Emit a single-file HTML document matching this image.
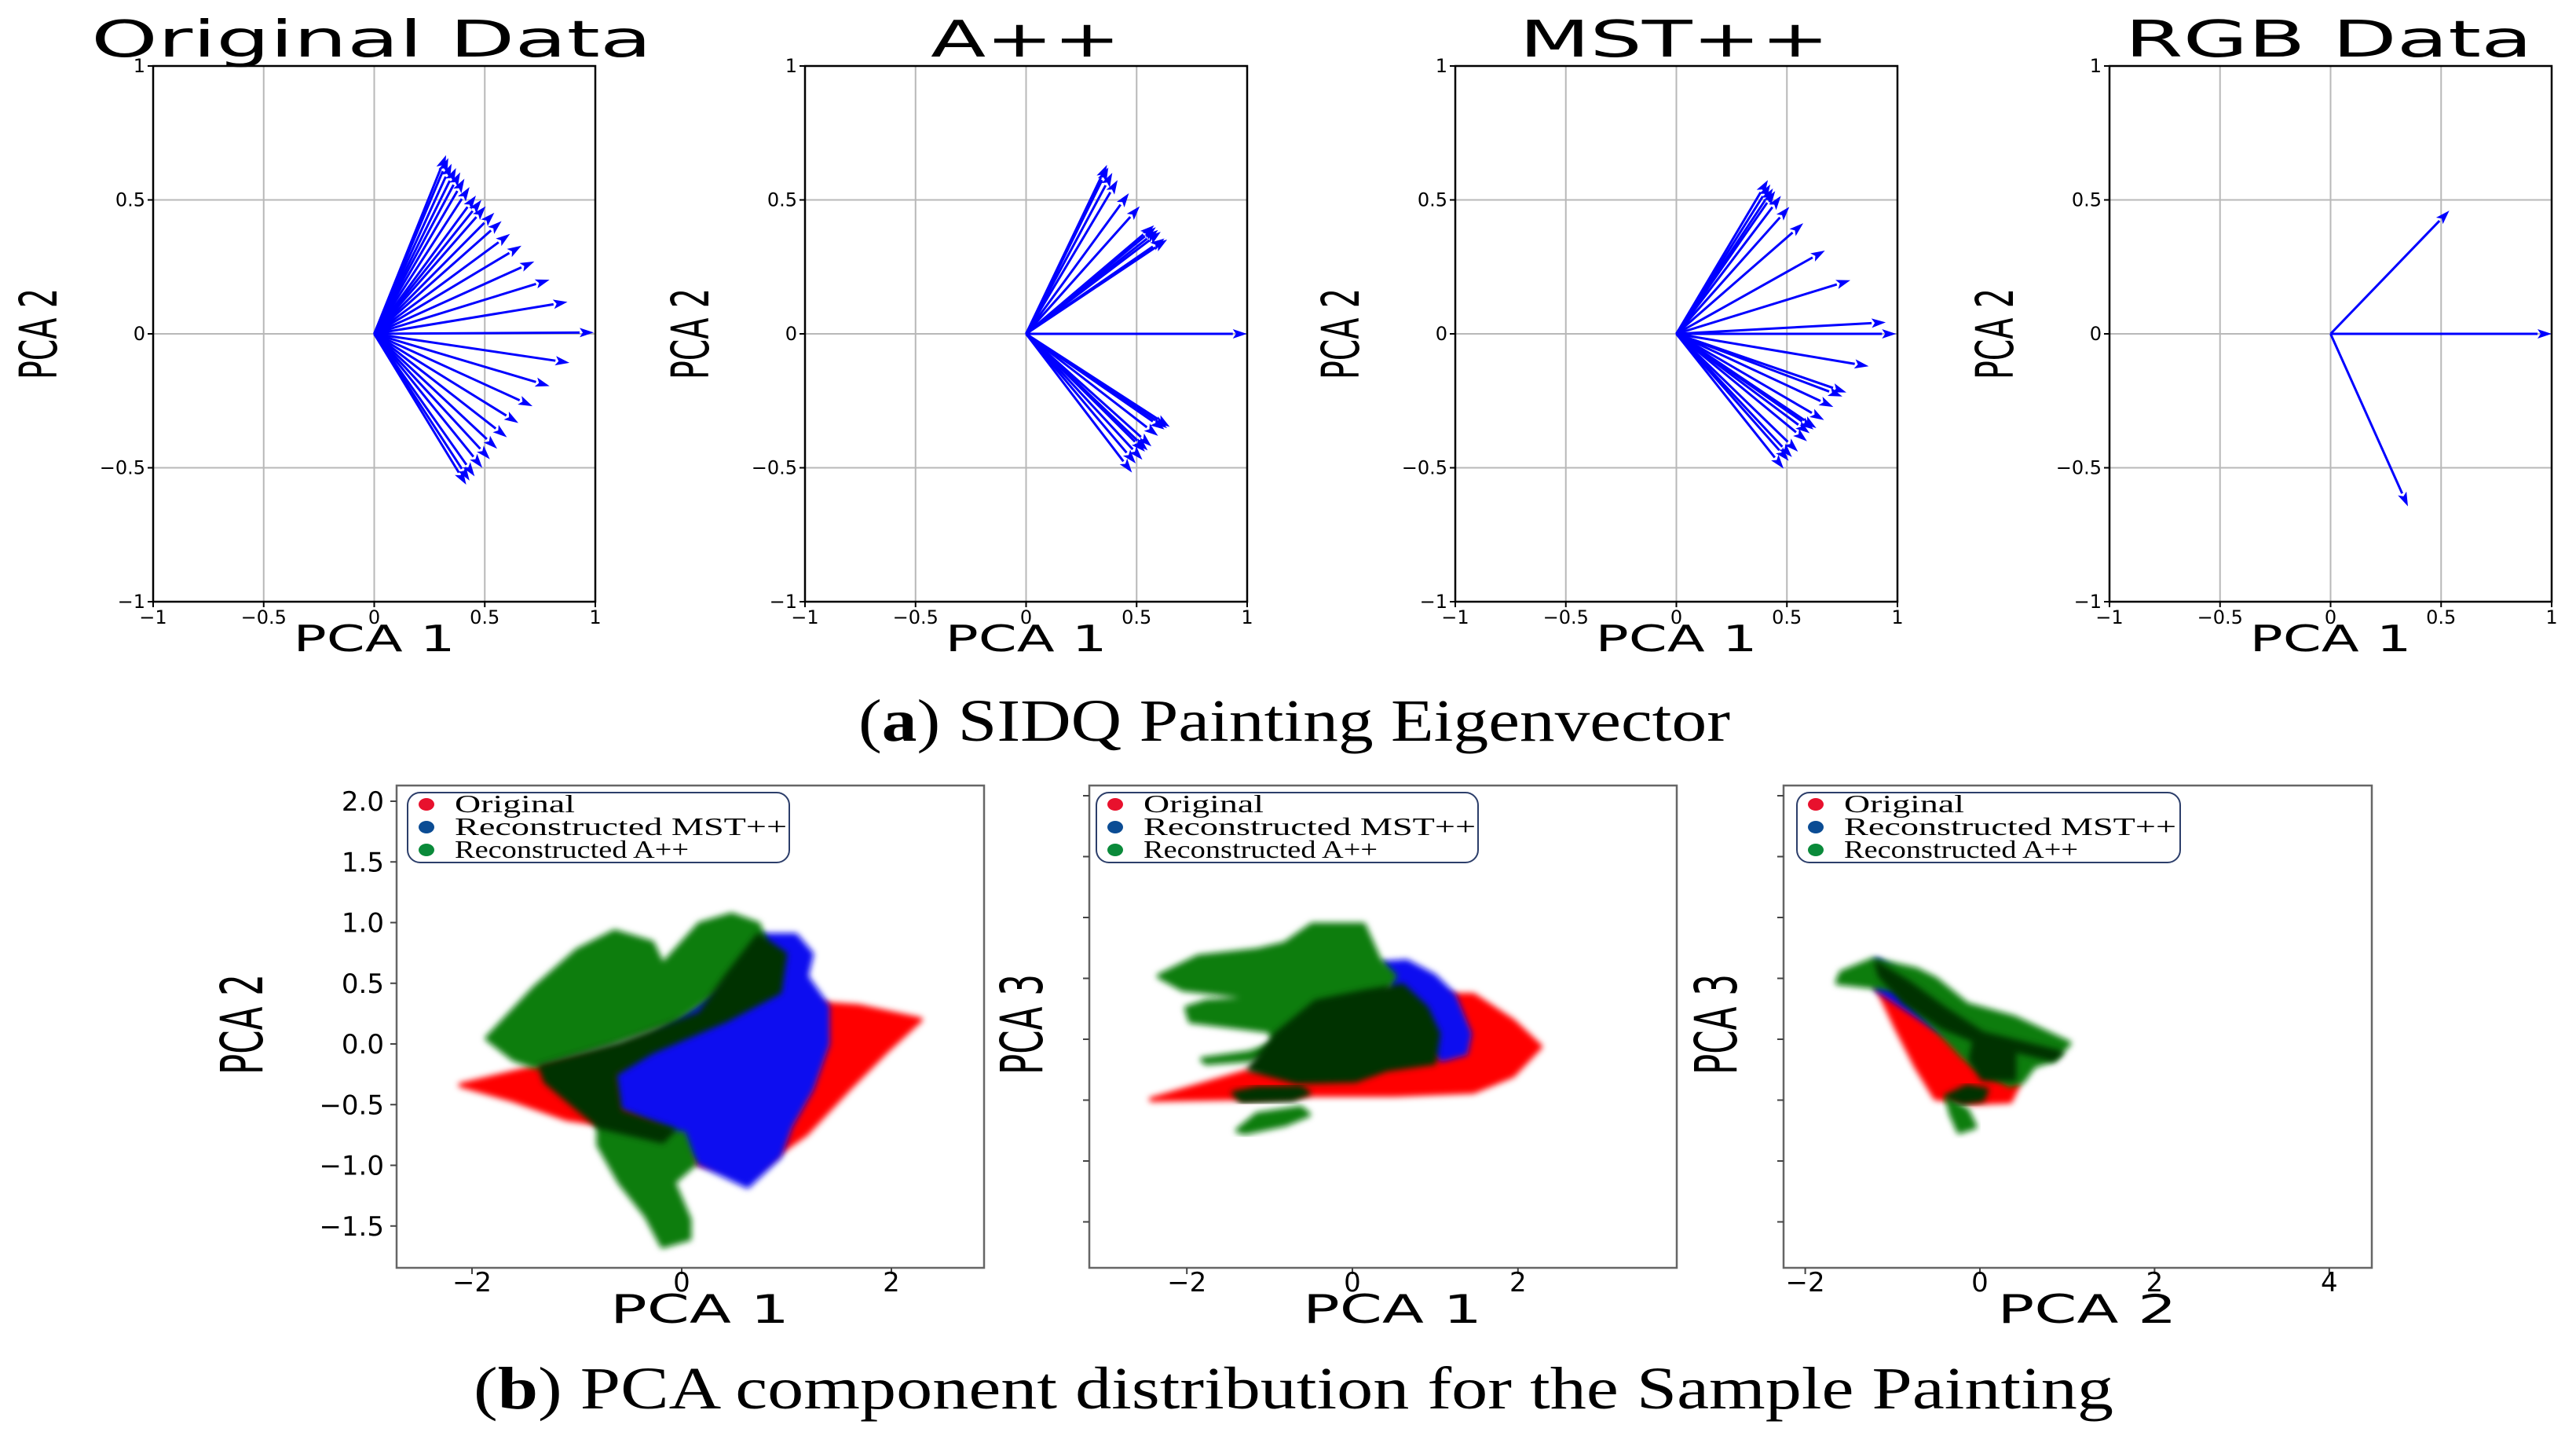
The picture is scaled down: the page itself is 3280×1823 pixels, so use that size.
<!DOCTYPE html>
<html><head><meta charset="utf-8"><style>
html,body{margin:0;padding:0;background:#fff;}
svg{display:block;}
</style></head><body>
<svg id="fig" xmlns="http://www.w3.org/2000/svg" width="3280" height="1823" viewBox="0 0 3280 1823">
<defs><filter id="blur" x="-20%" y="-20%" width="140%" height="140%"><feGaussianBlur stdDeviation="4"/></filter></defs>
<g id="top"></g>
<g id="bottom"></g>
<text x="1648" y="943" font-family="Liberation Serif, serif" font-size="76" text-anchor="middle" textLength="1110" lengthAdjust="spacingAndGlyphs">(<tspan font-weight="bold">a</tspan>) SIDQ Painting Eigenvector</text>
<text x="1647" y="1793" font-family="Liberation Serif, serif" font-size="76" text-anchor="middle" textLength="2088" lengthAdjust="spacingAndGlyphs">(<tspan font-weight="bold">b</tspan>) PCA component distribution for the Sample Painting</text>
</svg>
<script>
// ---------- Eigenvector data (PCA1, PCA2 components) ----------
const titles = ["Original Data", "A++", "MST++", "RGB Data"];
const origX = [0.325,0.335,0.350,0.370,0.389,0.408,0.431,0.460,0.485,0.504,0.543,0.576,0.614,0.666,0.724,0.793,0.874,0.993,0.883,0.793,0.716,0.652,0.600,0.556,0.523,0.489,0.454,0.431,0.416];
const origY = [0.667,0.656,0.635,0.619,0.603,0.579,0.548,0.516,0.500,0.476,0.452,0.421,0.373,0.329,0.270,0.202,0.119,0.005,-0.108,-0.195,-0.270,-0.333,-0.386,-0.429,-0.468,-0.500,-0.532,-0.548,-0.563];
const aX = [0.366,0.372,0.390,0.414,0.465,0.514,0.579,0.587,0.597,0.609,0.626,0.638,0.999,0.650,0.638,0.626,0.597,0.567,0.550,0.538,0.526,0.496,0.479];
const aY = [0.631,0.621,0.601,0.574,0.525,0.476,0.405,0.398,0.388,0.381,0.356,0.352,0,-0.347,-0.352,-0.357,-0.381,-0.420,-0.435,-0.440,-0.470,-0.484,-0.518];
const mX = [0.414,0.425,0.437,0.447,0.473,0.511,0.574,0.672,0.787,0.947,0.994,0.870,0.769,0.751,0.710,0.668,0.633,0.621,0.603,0.591,0.550,0.523,0.508,0.485];
const mY = [0.574,0.558,0.543,0.533,0.515,0.474,0.413,0.311,0.200,0.043,0,-0.121,-0.219,-0.234,-0.273,-0.322,-0.352,-0.357,-0.371,-0.401,-0.440,-0.460,-0.474,-0.503];
const rgbX = [0.537,1.0,0.35];
const rgbY = [0.460,0,-0.644];
const topTicks = [-1,-0.5,0,0.5,1];
const topTickLabels = ["\u22121","\u22120.5","0","0.5","1"];

// ---------- Scatter density regions (data units) ----------
const b1Red = [[-2.108,-0.339],[-1.348,-0.185],[-0.588,-0.062],[0.426,0.247],[1.186,0.339],[1.693,0.308],[2.276,0.200],[1.946,-0.062],[1.591,-0.370],[1.186,-0.740],[0.679,-1.048],[0.172,-0.986],[-0.588,-0.678],[-1.095,-0.616],[-1.602,-0.462]];
const b1Blue = [[-0.639,-0.247],[-0.081,0.185],[0.426,0.493],[0.730,0.894],[1.085,0.894],[1.237,0.740],[1.186,0.555],[1.389,0.308],[1.389,0],[1.237,-0.370],[1.034,-0.678],[0.932,-0.925],[0.628,-1.171],[0.172,-0.986],[-0.183,-0.678],[-0.588,-0.524]];
const b1Green = [[-1.855,0.046],[-1.399,0.462],[-0.993,0.770],[-0.639,0.924],[-0.284,0.832],[-0.183,0.647],[0.172,0.986],[0.476,1.063],[0.730,0.986],[0.781,0.863],[0.628,0.678],[0.324,0.431],[-0.081,0.185],[-0.689,0],[-1.399,-0.185],[-1.602,-0.123]];
const b1Green2 = [[-0.791,-0.616],[-0.436,-0.678],[0.020,-0.740],[0.122,-0.986],[-0.081,-1.140],[0.071,-1.448],[0.071,-1.602],[-0.183,-1.664],[-0.335,-1.418],[-0.588,-1.140],[-0.791,-0.832]];
const b1Dark = [[-1.348,-0.185],[-0.588,0],[0.172,0.247],[0.426,0.555],[0.730,0.894],[0.983,0.740],[0.932,0.431],[0.426,0.200],[-0.284,-0.062],[-0.639,-0.247],[-0.588,-0.555],[-0.081,-0.709],[-0.183,-0.801],[-0.791,-0.678],[-1.297,-0.308]];

const b2Red = [[-2.429,-0.495],[-1.291,-0.271],[-0.437,-0.218],[0.892,0.361],[1.461,0.361],[1.936,0.150],[2.268,-0.061],[1.936,-0.297],[1.461,-0.429],[0.512,-0.455],[-0.531,-0.455],[-1.385,-0.482]];
const b2Blue = [[0.370,0.624],[0.655,0.637],[0.987,0.518],[1.224,0.361],[1.414,0.045],[1.367,-0.113],[1.082,-0.166],[0.750,0.045],[0.512,0.361]];
const b2Green = [[-2.335,0.518],[-1.860,0.676],[-1.148,0.729],[-0.816,0.782],[-0.484,0.939],[0.133,0.939],[0.323,0.650],[0.512,0.518],[0.323,0.308],[-0.436,-0.008],[-1.243,-0.166],[-1.765,-0.192],[-1.812,-0.166],[-1.243,-0.113],[-0.911,-0.034],[-1.006,0.071],[-1.955,0.150],[-2.002,0.255],[-1.765,0.308],[-1.006,0.334],[-2.050,0.413]];
const b2Green2 = [[-1.385,-0.750],[-1.148,-0.618],[-0.626,-0.566],[-0.531,-0.618],[-0.816,-0.697],[-1.290,-0.763]];
const b2Dark = [[-1.243,-0.245],[-0.911,0.045],[-0.437,0.308],[0.133,0.387],[0.607,0.439],[0.892,0.255],[1.034,0.045],[0.987,-0.192],[0.418,-0.245],[0.038,-0.337],[-0.674,-0.350]];
const b2Dark2 = [[-1.433,-0.442],[-1.148,-0.403],[-0.626,-0.397],[-0.531,-0.442],[-0.721,-0.495],[-1.338,-0.508]];

const b3Red = [[-1.182,0.439],[-0.733,0.308],[-0.146,0.045],[0.211,-0.166],[0.436,-0.376],[0.346,-0.508],[-0.058,-0.522],[-0.508,-0.482],[-0.733,-0.218],[-0.957,0.097]];
const b3Blue = [[-1.182,0.650],[-1.002,0.571],[-0.733,0.361],[-0.058,0.018],[-0.148,-0.034],[-0.508,0.097],[-1.182,0.413]];
const b3Green = [[-1.227,0.650],[-0.733,0.571],[-0.508,0.492],[-0.148,0.282],[0.391,0.176],[1.020,-0.034],[0.840,-0.166],[0.616,-0.218],[0.481,-0.350],[0.346,-0.376],[-0.058,-0.218],[-0.193,-0.140],[-0.508,0.097],[-0.957,0.413],[-1.631,0.466],[-1.586,0.545]];
const b3Green2 = [[-0.373,-0.482],[-0.148,-0.587],[-0.058,-0.718],[-0.238,-0.758],[-0.328,-0.613]];
const b3Dark = [[-1.182,0.624],[-0.822,0.466],[-0.418,0.255],[0.031,0.045],[0.930,-0.113],[0.840,-0.166],[0.391,-0.087],[0.391,-0.324],[0.031,-0.324],[-0.103,-0.166],[-0.058,-0.008],[-0.418,0.097],[-0.867,0.308],[-1.137,0.518]];
const b3Dark2 = [[-0.373,-0.468],[-0.148,-0.389],[0.076,-0.416],[0.031,-0.495],[-0.193,-0.522]];

const b1YTicks = [2.0,1.5,1.0,0.5,0.0,-0.5,-1.0,-1.5];
const b1YLabels = ["2.0","1.5","1.0","0.5","0.0","\u22120.5","\u22121.0","\u22121.5"];
const b12XTicks = [-2,0,2];
const b12XLabels = ["\u22122","0","2"];
const b3XTicks = [-2,0,2,4];
const b3XLabels = ["\u22122","0","2","4"];
const legendLabels = ["Original","Reconstructed MST++","Reconstructed A++"];
const legendColors = ["#e8112d","#0b4c94","#0a8a3a"];
const legendLens = [153,423,298];

const NS = "http://www.w3.org/2000/svg";
function mk(tag, attrs, parent){const e=document.createElementNS(NS,tag);for(const k in attrs)e.setAttribute(k,attrs[k]);parent.appendChild(e);return e;}

// ---------- Top eigenvector panels ----------
const topG = document.getElementById("top");
const panelLeft = [195, 1025, 1853, 2686];
const pW = 563, pTop = 84, pBot = 766;
const titleLen = [714, 242, 395, 519];
const titleOff = [278, 281, 279, 279];
const vecX = [origX, aX, mX, rgbX];
const vecY = [origY, aY, mY, rgbY];
const names = ["original","a-plus-plus","mst-plus-plus","rgb"];
for (let p=0;p<4;p++){
  const L = panelLeft[p];
  const sx = v => L + (v+1)/2*pW;
  const sy = v => pTop + (1-v)/2*(pBot-pTop);
  const g = mk("g",{},topG);
  
  
  topTicks.forEach((t,i)=>{
    if (t>-1 && t<1){
      const gl = mk("line",{x1:sx(t),x2:sx(t),y1:pTop,y2:pBot,stroke:"#b8b8b8","stroke-width":2},g);
      
      
      const gh = mk("line",{x1:L,x2:L+pW,y1:sy(t),y2:sy(t),stroke:"#b8b8b8","stroke-width":2},g);
      
      
    }
    mk("line",{x1:sx(t),x2:sx(t),y1:pBot,y2:pBot+7,stroke:"#000","stroke-width":2},g);
    mk("line",{x1:L-7,x2:L,y1:sy(t),y2:sy(t),stroke:"#000","stroke-width":2},g);
    const xl = mk("text",{x:sx(t),y:pBot+28,"font-family":"DejaVu Sans, sans-serif","font-size":24,"text-anchor":"middle"},g);
    xl.textContent = topTickLabels[i];
    
    
    const yl = mk("text",{x:L-10,y:sy(t)+8,"font-family":"DejaVu Sans, sans-serif","font-size":24,"text-anchor":"end"},g);
    yl.textContent = topTickLabels[i];
    
    
  });
  const ox = sx(0), oy = sy(0);
  for (let i=0;i<vecX[p].length;i++){
    const ex = sx(vecX[p][i]), ey = sy(vecY[p][i]);
    const dx=ex-ox, dy=ey-oy, len=Math.hypot(dx,dy), ux=dx/len, uy=dy/len;
    const hl=18, hw=6;
    const bx=ex-ux*hl, by=ey-uy*hl;
    const ln = mk("line",{x1:ox,y1:oy,x2:bx,y2:by,stroke:"#0000ff","stroke-width":3},g);
    
    
    const hd = mk("polygon",{points:`${ex},${ey} ${bx-uy*hw},${by+ux*hw} ${bx+ux*4},${by+uy*4} ${bx+uy*hw},${by-ux*hw}`,fill:"#0000ff"},g);
    
    
  }
  const fr = mk("rect",{x:L,y:pTop,width:pW,height:pBot-pTop,fill:"none",stroke:"#000","stroke-width":2.5},g);
  
  
  const tt = mk("text",{x:L+titleOff[p],y:72,"font-family":"DejaVu Sans, sans-serif","font-size":64,"text-anchor":"middle",textLength:titleLen[p],lengthAdjust:"spacingAndGlyphs"},g);
  tt.textContent = titles[p];
  
  
  const xt = mk("text",{x:L+pW/2,y:829,"font-family":"DejaVu Sans, sans-serif","font-size":46,"text-anchor":"middle",textLength:206,lengthAdjust:"spacingAndGlyphs"},g);
  xt.textContent = "PCA 1";
  
  
  const yt = mk("text",{x:0,y:0,"font-family":"DejaVu Sans, sans-serif","font-size":66,"text-anchor":"middle",textLength:116,lengthAdjust:"spacingAndGlyphs",transform:`translate(${L-123},${oy}) rotate(-90)`},g);
  yt.textContent = "PCA 2";
  
  
}

// ---------- Bottom scatter panels ----------
const botG = document.getElementById("bottom");
const bPanels = [
  {L:505,R:1253,x0:868,ux:133.5,y0:1329,uy:154.5,red:b1Red,blue:b1Blue,green:[b1Green,b1Green2],dark:[b1Dark],xt:b12XTicks,xl:b12XLabels,ylab:"PCA 2",xlab:"PCA 1",yLabels:true,leg:519,legW:486},
  {L:1387,R:2135,x0:1722,ux:105.4,y0:1323,uy:155,red:b2Red,blue:b2Blue,green:[b2Green,b2Green2],dark:[b2Dark,b2Dark2],xt:b12XTicks,xl:b12XLabels,ylab:"PCA 3",xlab:"PCA 1",yLabels:false,leg:1396,legW:486},
  {L:2271,R:3020,x0:2521,ux:111.2,y0:1323,uy:155,red:b3Red,blue:b3Blue,green:[b3Green,b3Green2],dark:[b3Dark,b3Dark2],xt:b3XTicks,xl:b3XLabels,ylab:"PCA 3",xlab:"PCA 2",yLabels:false,leg:2288,legW:488}
];
const bTop=1000, bBot=1614;
bPanels.forEach((P,pi)=>{
  const g = mk("g",{},botG);
  
  
  const sx = v => P.x0 + v*P.ux;
  const sy = v => P.y0 - v*P.uy;
  const pts = arr => arr.map(p=>sx(p[0])+","+sy(p[1])).join(" ");
  const clipId = "clip"+pi;
  const cp = mk("clipPath",{id:clipId},g);
  mk("rect",{x:P.L,y:bTop,width:P.R-P.L,height:bBot-bTop},cp);
  const cg = mk("g",{"clip-path":`url(#${clipId})`},g);
  const layer = (arr,color,name,blur)=>{
    const e = mk("polygon",{points:pts(arr),fill:color,"stroke-linejoin":"round",stroke:color,"stroke-width":6},cg);
    if (blur) e.setAttribute("filter","url(#blur)");
    
    
  };
  layer(P.red,"#ff0000","original-points",true);
  layer(P.blue,"#1010f0","mst-points",true);
  P.green.forEach(a=>layer(a,"#0a7d0a","a-plus-plus-points",true));
  P.dark.forEach(a=>layer(a,"#013301","overlap-points",true));
  const fr = mk("rect",{x:P.L,y:bTop,width:P.R-P.L,height:bBot-bTop,fill:"none",stroke:"#666","stroke-width":2.5},g);
  
  
  b1YTicks.forEach((t,i)=>{
    const y = sy(t);
    if (y<bTop||y>bBot) return;
    mk("line",{x1:P.L-8,x2:P.L,y1:y,y2:y,stroke:"#444","stroke-width":2},g);
    if (P.yLabels){
      const tl = mk("text",{x:P.L-16,y:y+12,"font-family":"DejaVu Sans, sans-serif","font-size":34,"text-anchor":"end"},g);
      tl.textContent = b1YLabels[i];
      
      
    }
  });
  P.xt.forEach((t,i)=>{
    const x = sx(t);
    mk("line",{x1:x,x2:x,y1:bBot,y2:bBot+8,stroke:"#444","stroke-width":2},g);
    const tl = mk("text",{x:x,y:bBot+30,"font-family":"DejaVu Sans, sans-serif","font-size":34,"text-anchor":"middle"},g);
    tl.textContent = P.xl[i];
    
    
  });
  const xt = mk("text",{x:(P.L+P.R)/2+12,y:1684,"font-family":"DejaVu Sans, sans-serif","font-size":50,"text-anchor":"middle",textLength:228,lengthAdjust:"spacingAndGlyphs"},g);
  xt.textContent = P.xlab;
  
  
  const ytx = pi===0 ? 334 : P.L-60;
  const yt = mk("text",{x:0,y:0,"font-family":"DejaVu Sans, sans-serif","font-size":74,"text-anchor":"middle",textLength:128,lengthAdjust:"spacingAndGlyphs",transform:`translate(${ytx},${1304}) rotate(-90)`},g);
  yt.textContent = P.ylab;
  
  
  // legend
  const lg = mk("g",{},g);
  
  
  mk("rect",{x:P.leg,y:1009,width:P.legW,height:89,rx:16,fill:"#fff","fill-opacity":0.9,stroke:"#2c3e6a","stroke-width":2},lg);
  legendLabels.forEach((lab,i)=>{
    const y = 1024 + i*29;
    const m = mk("ellipse",{cx:P.leg+24,cy:y,rx:10,ry:8,fill:legendColors[i]},lg);
    
    
    const t = mk("text",{x:P.leg+60,y:y+10,"font-family":"Liberation Serif, serif","font-size":32,textLength:legendLens[i],lengthAdjust:"spacingAndGlyphs"},lg);
    t.textContent = lab;
    
    
  });
});
</script>
</body></html>
